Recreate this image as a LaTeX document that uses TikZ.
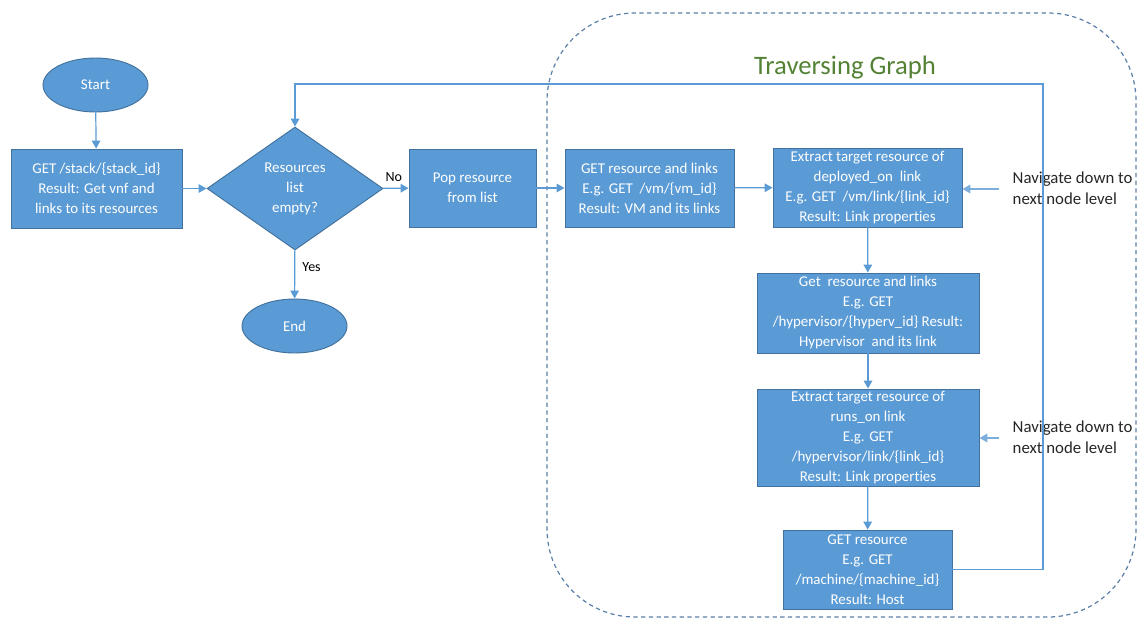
\documentclass[tikz,border=0pt]{standalone}
\usepackage{fontspec}
\setmainfont{Carlito}[Ligatures=NoCommon]
\usetikzlibrary{shapes.geometric,arrows.meta}
\definecolor{boxfill}{HTML}{5B9BD5}
\definecolor{boxedge}{HTML}{41719C}
\definecolor{flow}{HTML}{5B9BD5}
\definecolor{frame}{HTML}{5A7FA8}
\definecolor{titlegreen}{HTML}{548235}
\tikzset{
  px/.style={x=0.75pt,y=-0.75pt},
  blk/.style={draw=boxedge,fill=boxfill,line width=0.7pt,text=white,align=center,
    inner sep=0pt,font=\fontsize{11.2}{15}\selectfont},
  procbox/.style={blk,rectangle},
  termbox/.style={blk,ellipse,minimum width=105*0.75pt,minimum height=54*0.75pt},
  decbox/.style={blk,diamond,minimum width=176*0.75pt,minimum height=123*0.75pt},
  flowarrow/.style={draw=flow,line width=0.9pt,-{Triangle[length=6pt,width=6.5pt]}},
  navtext/.style={anchor=west,align=left,text=black!85,font=\fontsize{12.6}{15.5}\selectfont},
  branch/.style={text=black,font=\fontsize{10.5}{12}\selectfont}
}
\begin{document}
\begin{tikzpicture}[px]
\useasboundingbox (0,0) rectangle (1137,619);

% dashed frame around the graph traversal part
\draw[frame,line width=0.9pt,dash pattern=on 3.2pt off 2.6pt,rounded corners=66pt]
  (547,13) rectangle (1136,617);
\node[text=titlegreen,font=\fontsize{20}{24}\selectfont] (title) at (845,68) {Traversing Graph};

% left part of the flow
\node[termbox] (start) at (95.5,85) {Start};
\node[procbox,minimum width=171*0.75pt,minimum height=79*0.75pt] (stack) at (96.5,188.5)
  {GET /stack/\{stack\_id\}\\Result: Get vnf and\\links to its resources};
\node[decbox] (empty) at (295,188.5) {Resources\\list\\empty?};
\node[termbox] (end) at (294.5,326) {End};
\node[procbox,minimum width=127*0.75pt,minimum height=78*0.75pt] (pop) at (472.5,188)
  {Pop resource\\from list};

% traversal steps
\node[procbox,minimum width=169*0.75pt,minimum height=78*0.75pt] (getvm) at (649.5,188)
  {GET resource and links\\E.g. GET \ /vm/\{vm\_id\}\\Result: VM and its links};
\node[procbox,minimum width=189*0.75pt,minimum height=79*0.75pt] (deploy) at (867.5,187.5)
  {Extract target resource of\\deployed\_on \ link\\E.g. GET \ /vm/link/\{link\_id\}\\Result: Link properties};
\node[procbox,minimum width=222*0.75pt,minimum height=80*0.75pt] (hyper) at (868,313)
  {Get \ resource and links\\E.g. GET\\/hypervisor/\{hyperv\_id\} Result:\\Hypervisor \ and its link};
\node[procbox,minimum width=222*0.75pt,minimum height=97*0.75pt] (runs) at (868,437.5)
  {Extract target resource of\\runs\_on link\\E.g. GET\\/hypervisor/link/\{link\_id\}\\Result: Link properties};
\node[procbox,minimum width=169*0.75pt,minimum height=79*0.75pt] (host) at (867.5,569.5)
  {GET resource\\E.g. GET\\/machine/\{machine\_id\}\\Result: Host};

% side notes
\node[navtext] (nav1) at (1008,188) {Navigate down to\\next node level};
\node[navtext] (nav2) at (1008,437.5) {Navigate down to\\next node level};
\coordinate (nav1in) at (999,189);
\coordinate (nav2in) at (999,438);
\coordinate (loop) at (1043,84);

% connectors
\draw[flowarrow] (start) -- (stack);
\draw[flowarrow] (stack) -- (empty);
\draw[flowarrow] (empty) -- (pop) node[branch,pos=0.42,above=1pt] (no) {No};
\draw[flowarrow] (empty) -- (end) node[branch,pos=0.35,right=2pt] (yes) {Yes};
\draw[flowarrow] (pop) -- (getvm);
\draw[flowarrow] (getvm) -- (deploy);
\draw[flowarrow] (deploy) -- (hyper);
\draw[flowarrow] (hyper) -- (runs);
\draw[flowarrow] (runs) -- (host);
\draw[flowarrow] (host.east) -| (loop) -| (empty.north);
\draw[flowarrow,draw=flow!80,line width=1.3pt] (nav1in) -- (deploy.east |- nav1in);
\draw[flowarrow,draw=flow!80,line width=1.3pt] (nav2in) -- (runs.east |- nav2in);
\end{tikzpicture}
\end{document}
